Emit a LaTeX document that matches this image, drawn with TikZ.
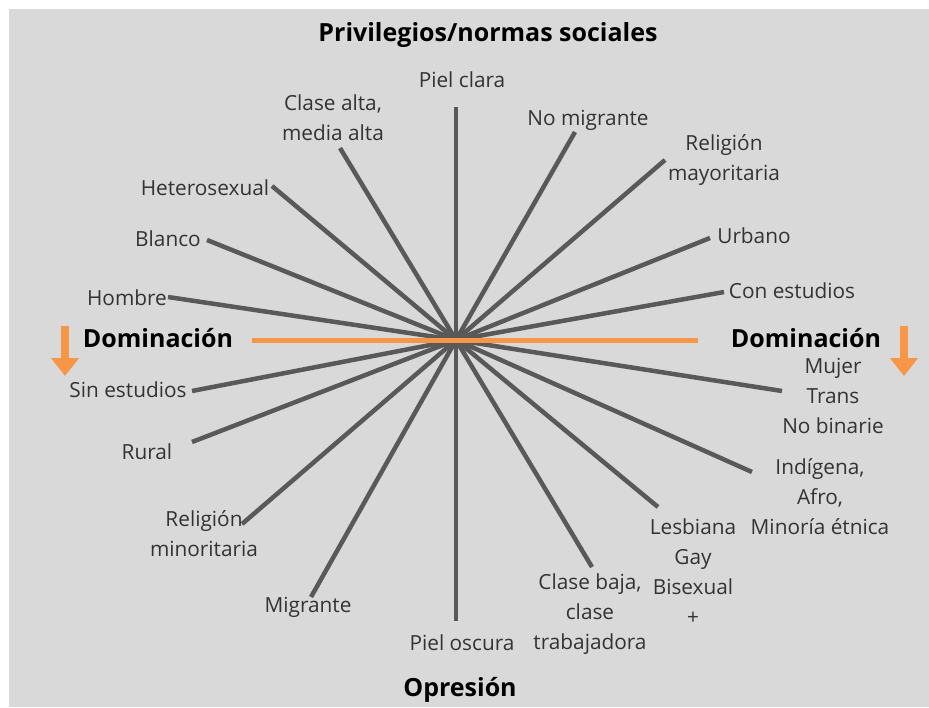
\documentclass[tikz,border=0pt]{standalone}
\usepackage{fontspec}
\setmainfont{Open Sans}
\usepackage{xcolor}
\usepackage{tikz}
\usetikzlibrary{arrows.meta,positioning}
\definecolor{panel}{HTML}{D9D9D9}
\definecolor{spokegray}{HTML}{595959}
\definecolor{domorange}{HTML}{F79646}

\begin{document}
\begin{tikzpicture}[
    x=1pt, y=-1pt,
    label/.style={font=\fontsize{20.8}{30}\selectfont, text=black!80, align=center, inner sep=0pt},
    title/.style={font=\fontsize{25}{30}\selectfont\bfseries, inner sep=0pt},
    spoke/.style={line width=4.5pt, draw=spokegray},
    domline/.style={line width=5pt, draw=domorange},
    domarrow/.style={line width=8pt, draw=domorange, -{Triangle[width=27pt,length=18pt]}}
]
\useasboundingbox (0,0) rectangle (929,707);
\fill[panel] (9,9) rectangle (929,707);

% centre of the star
\coordinate (c) at (456,340);

% ends of the spokes
\coordinate (top) at (456,107);
\coordinate (bottom) at (456,621);
\coordinate (clasealta) at (340,148);
\coordinate (hetero) at (272,186);
\coordinate (blanco) at (207,240);
\coordinate (hombre) at (168,297);
\coordinate (sinest) at (192,391);
\coordinate (rural) at (192,442);
\coordinate (relmin) at (242,524);
\coordinate (migr) at (311,597);
\coordinate (clasebaja) at (592,567);
\coordinate (lgb) at (658,507);
\coordinate (indig) at (752,472);
\coordinate (mujer) at (782,391);
\coordinate (conest) at (724,292);
\coordinate (urbano) at (710,238);
\coordinate (relmay) at (665,160);
\coordinate (nomigr) at (575,132);

\draw[spoke] (c) -- (top);
\draw[spoke] (c) -- (bottom);
\draw[spoke] (c) -- (clasealta);
\draw[spoke] (c) -- (hetero);
\draw[spoke] (c) -- (blanco);
\draw[spoke] (c) -- (hombre);
\draw[spoke] (c) -- (sinest);
\draw[spoke] (c) -- (rural);
\draw[spoke] (c) -- (relmin);
\draw[spoke] (c) -- (migr);
\draw[spoke] (c) -- (clasebaja);
\draw[spoke] (c) -- (lgb);
\draw[spoke] (c) -- (indig);
\draw[spoke] (c) -- (mujer);
\draw[spoke] (c) -- (conest);
\draw[spoke] (c) -- (urbano);
\draw[spoke] (c) -- (relmay);
\draw[spoke] (c) -- (nomigr);

% domination axis
\coordinate (domL) at (252,340);
\coordinate (domR) at (698,340);
\draw[domline] (domL) -- (domR);

% titles
\node[title] (privilegios) at (488,35) {Privilegios/normas sociales};
\node[title] (opresion) at (460,690) {Opresión};
\node[title] (dominacionL) at (158,338) {Dominación};
\node[title] (dominacionR) at (806,338) {Dominación};

% orange arrows
\coordinate (arrLa) at (65,326);
\coordinate (arrLb) at (65,376);
\coordinate (arrRa) at (904,326);
\coordinate (arrRb) at (904,376);
\draw[domarrow] (arrLa) -- (arrLb);
\draw[domarrow] (arrRa) -- (arrRb);

% labels
\node[label] (pielclara) at (462,80) {Piel clara};
\node[label] (lclasealta) at (333,118) {Clase alta,\\media alta};
\node[label] (lnomigr) at (588,120) {No migrante};
\node[label] (lrelmay) at (724,160) {Religión\\mayoritaria};
\node[label] (lhetero) at (205,188) {Heterosexual};
\node[label] (lblanco) at (168,239) {Blanco};
\node[label] (lurbano) at (754,236) {Urbano};
\node[label] (lhombre) at (127,298) {Hombre};
\node[label] (lconest) at (792,291) {Con estudios};
\node[label] (lmujer) at (833,396) {Mujer\\Trans\\No binarie};
\node[label] (lsinest) at (128,390) {Sin estudios};
\node[label] (lrural) at (147,452) {Rural};
\node[label] (lindig) at (820,497) {Indígena,\\Afro,\\Minoría étnica};
\node[label] (lrelmin) at (204,534) {Religión\\minoritaria};
\node[label] (llgb) at (693,572) {Lesbiana\\Gay\\Bisexual\\+};
\node[label] (lmigr) at (308,607) {Migrante};
\node[label] (lclasebaja) at (590,614) {Clase baja,\\clase\\trabajadora};
\node[label] (pieloscura) at (462,643) {Piel oscura};

\end{tikzpicture}
\end{document}
